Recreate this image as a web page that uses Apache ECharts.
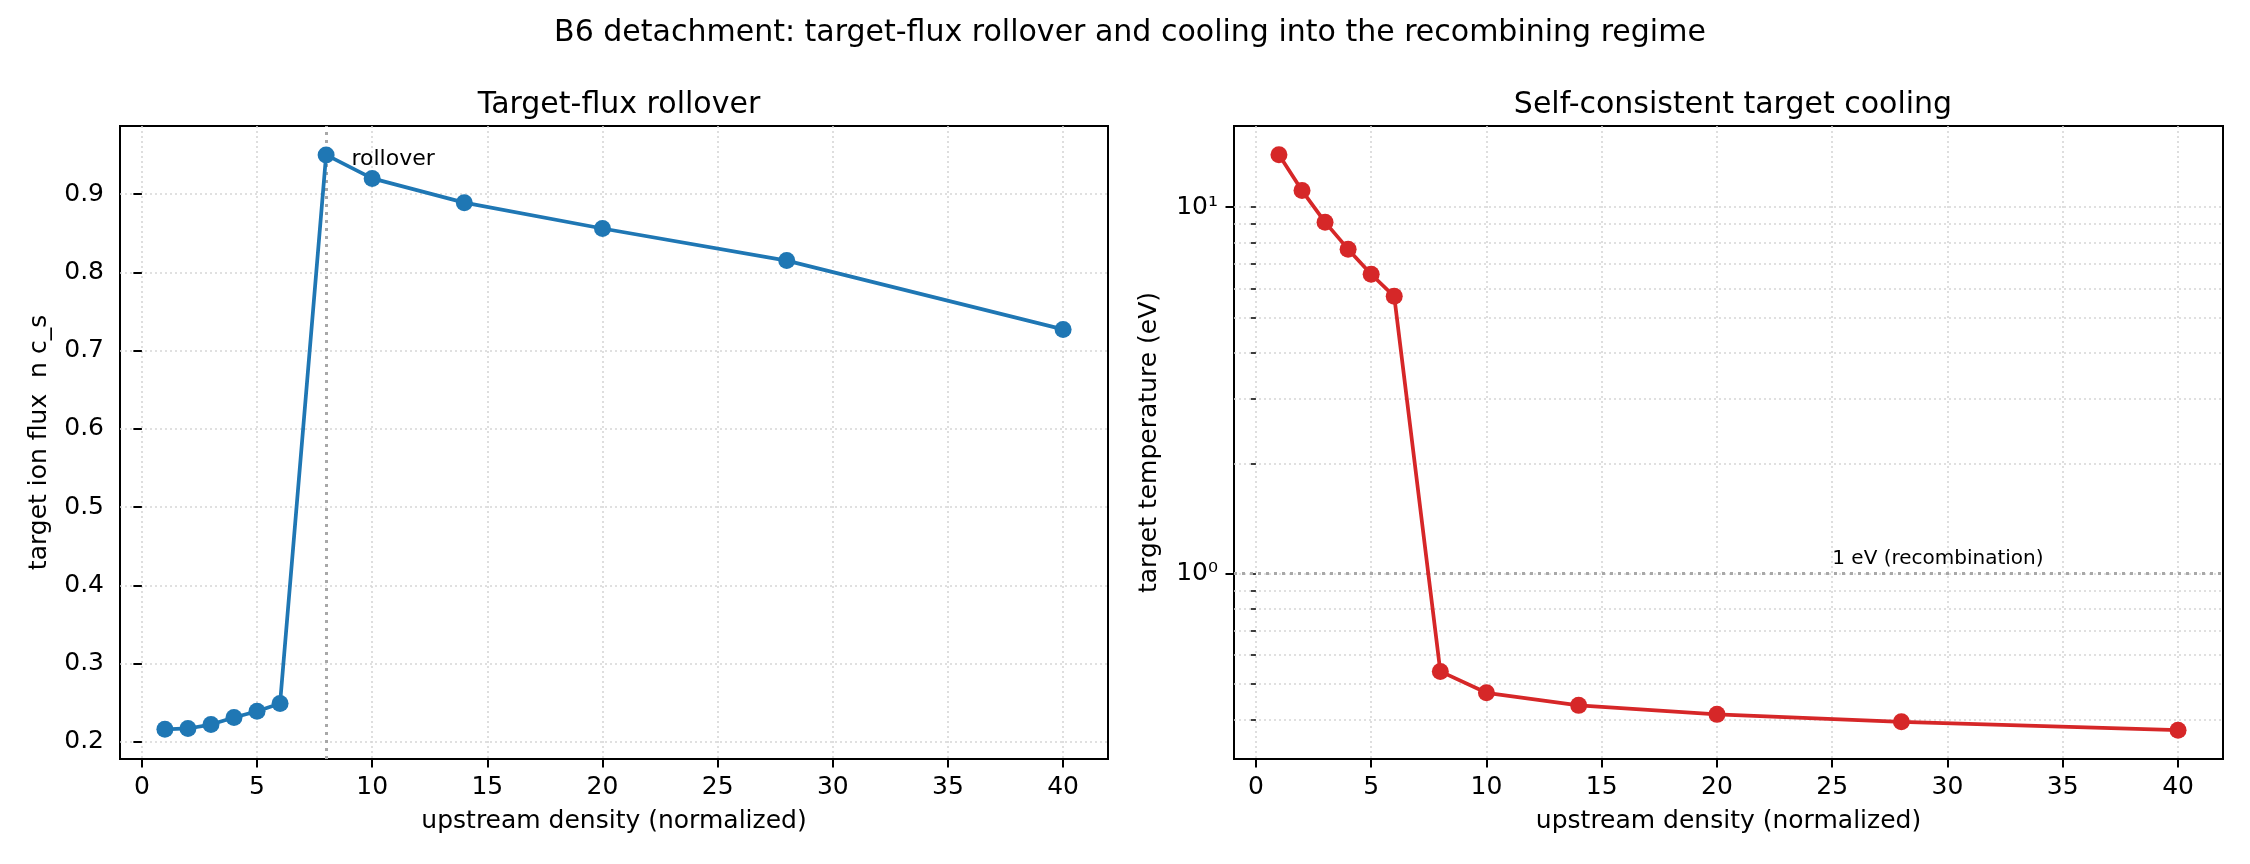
<!DOCTYPE html>
<html>
<head>
<meta charset="utf-8">
<script src="https://cdn.jsdelivr.net/npm/echarts@6/dist/echarts.min.js"></script>
<style>
  html, body { margin: 0; padding: 0; background: #fff; }
  #chart { width: 2250px; height: 864px; }
</style>
</head>
<body>
<div id="chart"></div>
<script>
// upstream density (normalized)
const density = [1, 2, 3, 4, 5, 6, 8, 10, 14, 20, 28, 40]
// target ion flux n c_s
const ionFlux = [0.216, 0.217, 0.222, 0.231, 0.239, 0.249, 0.95, 0.92, 0.889, 0.856, 0.815, 0.727]
// target temperature (eV)
const targetTe = [13.9, 11.1, 9.1, 7.68, 6.56, 5.71, 0.541, 0.473, 0.437, 0.413, 0.394, 0.374]

const xTicks = [0, 5, 10, 15, 20, 25, 30, 35, 40]
const fluxTicks = [0.2, 0.3, 0.4, 0.5, 0.6, 0.7, 0.8, 0.9]
const teMajor = [1, 10]
const teMinor = [0.4, 0.5, 0.6, 0.7, 0.8, 0.9, 1, 2, 3, 4, 5, 6, 7, 8, 9, 10]
const rolloverX = 8
const recombTe = 1

const FONT = 'DejaVu Sans'
const gridLine = { show: true, lineStyle: { color: '#d6d6d6', width: 1.6, type: [2, 3] } }
const tickStyle = { color: '#000', width: 2 }

const pairs = (xs, ys) => xs.map((x, i) => [x, ys[i]])

const xAxisOf = (gridIndex) => ({
  type: 'value',
  gridIndex,
  min: -0.95,
  max: 41.95,
  name: 'upstream density (normalized)',
  nameLocation: 'middle',
  nameGap: 50,
  nameTextStyle: { fontFamily: FONT, fontSize: 25, color: '#000' },
  axisLine: { show: false },
  axisTick: { show: true, inside: false, length: 8.5, lineStyle: tickStyle, customValues: xTicks },
  axisLabel: { fontFamily: FONT, fontSize: 25, color: '#000', margin: 16, customValues: xTicks },
  splitLine: gridLine
})

const chart = echarts.init(document.getElementById('chart'))
chart.setOption({
  animation: false,
  backgroundColor: '#fff',
  title: [
    {
      text: 'B6 detachment: target-flux rollover and cooling into the recombining regime',
      left: 1125, top: 13, textAlign: 'center',
      textStyle: { fontFamily: FONT, fontSize: 30, fontWeight: 'normal', color: '#000' }
    },
    {
      text: 'Target-flux rollover',
      left: 614, top: 85, textAlign: 'center',
      textStyle: { fontFamily: FONT, fontSize: 30, fontWeight: 'normal', color: '#000' }
    },
    {
      text: 'Self-consistent target cooling',
      left: 1728, top: 85, textAlign: 'center',
      textStyle: { fontFamily: FONT, fontSize: 30, fontWeight: 'normal', color: '#000' }
    }
  ],
  grid: [
    { left: 120, top: 126, width: 988, height: 633, show: true, borderColor: '#000', borderWidth: 2, backgroundColor: 'transparent' },
    { left: 1234, top: 126, width: 989, height: 633, show: true, borderColor: '#000', borderWidth: 2, backgroundColor: 'transparent' }
  ],
  xAxis: [xAxisOf(0), xAxisOf(1)],
  yAxis: [
    {
      type: 'value',
      gridIndex: 0,
      position: 'left',
      min: 0.178,
      max: 0.987,
      name: 'target ion flux  n c_s',
      nameLocation: 'middle',
      nameGap: 68,
      nameTextStyle: { fontFamily: FONT, fontSize: 25, color: '#000' },
      axisLine: { show: false },
      axisTick: { show: true, inside: false, length: 8.5, lineStyle: tickStyle, customValues: fluxTicks },
      axisLabel: { fontFamily: FONT, fontSize: 25, color: '#000', margin: 16, customValues: fluxTicks,
        formatter: (v) => v.toFixed(1) },
      splitLine: gridLine
    },
    {
      // minor ticks + grid for the log axis
      type: 'log',
      logBase: 10,
      gridIndex: 1,
      position: 'left',
      min: 0.312,
      max: 16.65,
      name: 'target temperature (eV)',
      nameLocation: 'middle',
      nameGap: 72,
      nameTextStyle: { fontFamily: FONT, fontSize: 25, color: '#000' },
      axisLine: { show: false },
      axisTick: { show: true, inside: false, length: 5, lineStyle: { color: '#000', width: 1.5 }, customValues: teMinor },
      axisLabel: { fontFamily: FONT, fontSize: 25, color: '#000', margin: 16, customValues: teMajor,
        formatter: (v) => (v >= 10 ? '10¹' : '10⁰') },
      splitLine: gridLine
    },
    {
      // major ticks for the log axis
      type: 'log',
      logBase: 10,
      gridIndex: 1,
      position: 'left',
      offset: 0,
      min: 0.312,
      max: 16.65,
      axisLine: { show: false },
      axisTick: { show: true, inside: false, length: 8.5, lineStyle: tickStyle, customValues: teMajor },
      axisLabel: { show: false },
      splitLine: { show: false }
    }
  ],
  series: [
    {
      type: 'line',
      xAxisIndex: 0,
      yAxisIndex: 0,
      data: pairs(density, ionFlux),
      color: '#1f77b4',
      symbol: 'circle',
      symbolSize: 17,
      lineStyle: { width: 3.75 },
      z: 3,
      markLine: {
        silent: true,
        symbol: 'none',
        z: 2,
        label: { show: false },
        lineStyle: { color: '#a8a8a8', width: 3, type: [3, 5] },
        data: [{ xAxis: rolloverX }]
      },
      markPoint: {
        silent: true,
        symbol: 'circle',
        symbolSize: 0,
        data: [{ coord: [9.1, 0.945] }],
        label: {
          show: true, position: [0, 0], align: 'left', verticalAlign: 'middle',
          formatter: 'rollover', fontFamily: FONT, fontSize: 22, color: '#000'
        }
      }
    },
    {
      type: 'line',
      xAxisIndex: 1,
      yAxisIndex: 1,
      data: pairs(density, targetTe),
      color: '#d62728',
      symbol: 'circle',
      symbolSize: 17,
      lineStyle: { width: 3.75 },
      z: 3,
      markLine: {
        silent: true,
        symbol: 'none',
        z: 2,
        label: { show: false },
        lineStyle: { color: '#a8a8a8', width: 3, type: [3, 5] },
        data: [{ yAxis: recombTe }]
      },
      markPoint: {
        silent: true,
        symbol: 'circle',
        symbolSize: 0,
        data: [{ coord: [25, recombTe] }],
        label: {
          show: true, position: [0, -5], align: 'left', verticalAlign: 'bottom',
          formatter: '1 eV (recombination)', fontFamily: FONT, fontSize: 20, color: '#000'
        }
      }
    }
  ]
})
</script>
</body>
</html>
